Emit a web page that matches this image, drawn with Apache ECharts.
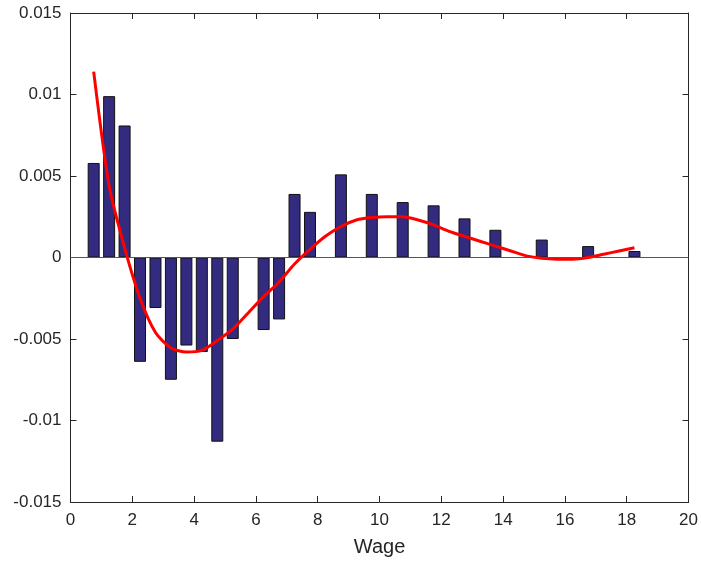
<!DOCTYPE html>
<html>
<head>
<meta charset="utf-8">
<script src="https://cdn.jsdelivr.net/npm/echarts@6/dist/echarts.min.js"></script>
<style>
html,body{margin:0;padding:0;background:#fff;}
#c{width:701px;height:562px;}
</style>
</head>
<body>
<div id="c"></div>
<script>
// Bar centres (Wage) and bar heights
const wages = [0.75,1.25,1.75,2.25,2.75,3.25,3.75,4.25,4.75,5.25,5.75,6.25,6.75,7.25,7.75,8.25,8.75,9.25,9.75,10.25,10.75,11.25,11.75,12.25,12.75,13.25,13.75,14.25,14.75,15.25,15.75,16.25,16.75,17.25,17.75,18.25];
const barValues = [0.0058,0.0099,0.0081,-0.0064,-0.0031,-0.0075,-0.0054,-0.0058,-0.0113,-0.0050,0,-0.00445,-0.0038,0.0039,0.0028,0,0.0051,0,0.0039,0,0.0034,0,0.0032,0,0.0024,0,0.0017,0,0,0.0011,0,0,0.0007,0,0,0.0004];
// Smoothed fit curve sampled at the same wages
const fitValues = [0.0114,0.0044,0.0006,-0.0025,-0.0046,-0.00555,-0.0058,-0.0057,-0.0051,-0.0044,-0.0034,-0.0024,-0.0015,-0.0004,0.0005,0.0013,0.0019,0.0023,0.00245,0.0025,0.0025,0.0023,0.0020,0.0016,0.0013,0.0010,0.0007,0.0004,0.0001,-0.00005,-0.0001,-0.0001,0.0,0.0002,0.0004,0.0006];
const xTickLabels = ['0','2','4','6','8','10','12','14','16','18','20'];
const yTickLabels = ['-0.015','-0.01','-0.005','0','0.005','0.01','0.015'];
const xMin = 0, xMax = 20, xStep = 2;
const yMin = -0.015, yMax = 0.015, yStep = 0.005;

const axisColor = '#262626';
const font = 'Liberation Sans, Arial, Helvetica, sans-serif';

const chart = echarts.init(document.getElementById('c'));
const tickCommon = {show:true, inside:true, length:6, lineStyle:{color:axisColor, width:1}};
chart.setOption({
  animation:false,
  backgroundColor:'#fff',
  grid:{left:70.5, right:11.7, top:13, bottom:59, containLabel:false},
  xAxis:[{
    type:'value', min:xMin, max:xMax, interval:xStep, position:'bottom',
    name:'Wage', nameLocation:'middle', nameGap:35,
    nameTextStyle:{fontFamily:font, fontSize:20, color:axisColor},
    axisLine:{show:true, onZero:false, lineStyle:{color:axisColor, width:1}},
    axisTick:tickCommon,
    axisLabel:{fontFamily:font, fontSize:17, color:axisColor, margin:10,
      formatter:v=>xTickLabels[Math.round((v-xMin)/xStep)]},
    splitLine:{show:false}
  },{
    type:'value', min:xMin, max:xMax, interval:xStep, position:'top',
    axisLine:{show:true, onZero:false, lineStyle:{color:axisColor, width:1}},
    axisTick:tickCommon, axisLabel:{show:false}, splitLine:{show:false}
  }],
  yAxis:[{
    type:'value', min:yMin, max:yMax, interval:yStep, position:'left',
    axisLine:{show:true, onZero:false, lineStyle:{color:axisColor, width:1}},
    axisTick:tickCommon,
    axisLabel:{fontFamily:font, fontSize:17, color:axisColor, margin:9,
      formatter:v=>yTickLabels[Math.round((v-yMin)/yStep)]},
    splitLine:{show:false}
  },{
    type:'value', min:yMin, max:yMax, interval:yStep, position:'right',
    axisLine:{show:true, onZero:false, lineStyle:{color:axisColor, width:1}},
    axisTick:tickCommon, axisLabel:{show:false}, splitLine:{show:false}
  }],
  series:[{
    type:'bar',
    data:wages.map((w,i)=>[w, barValues[i]]),
    barWidth:12,
    itemStyle:{color:'#332b80', borderColor:'#111', borderWidth:1},
    markLine:{
      silent:true, symbol:['none','none'],
      label:{show:false},
      lineStyle:{color:'#555', width:1, type:'solid'},
      data:[{yAxis:0}]
    },
    z:2
  },{
    type:'line',
    data:wages.map((w,i)=>[w, fitValues[i]]),
    showSymbol:false, symbol:'none', smooth:0.25,
    lineStyle:{color:'#ff0000', width:3},
    z:3
  }]
});
</script>
</body>
</html>
